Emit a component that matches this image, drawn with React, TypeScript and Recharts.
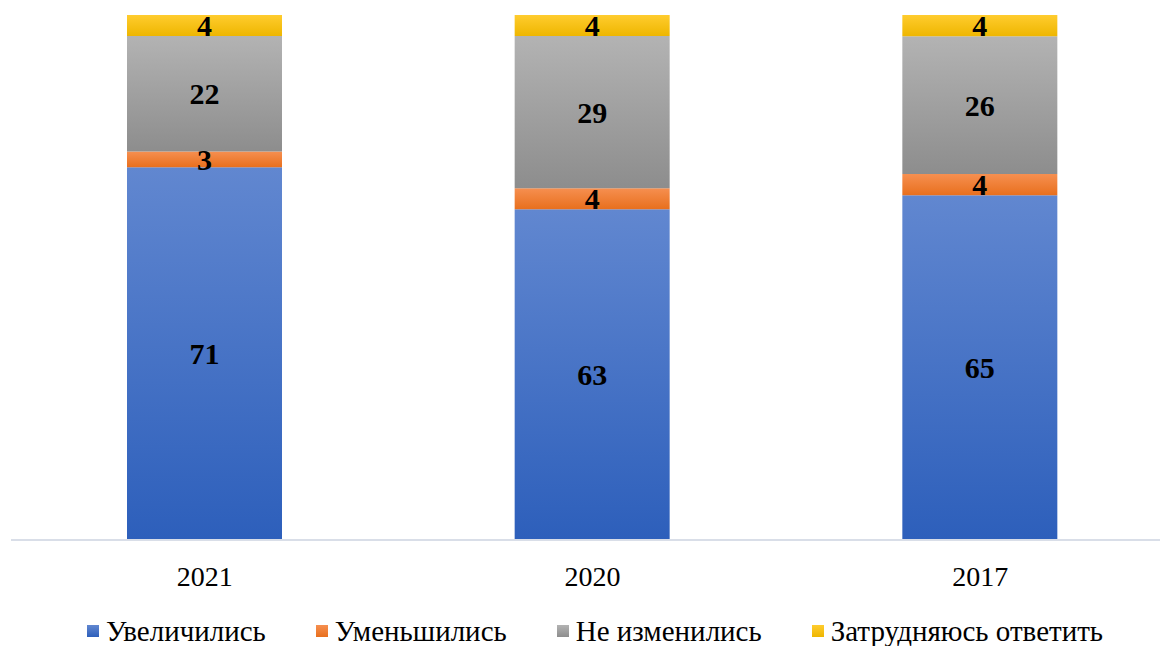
import React from 'react';
import { BarChart, Bar, XAxis, YAxis, Legend, LabelList } from 'recharts';

const years = ['2021', '2020', '2017'];
const increased = [71, 63, 65];
const decreased = [3, 4, 4];
const unchanged = [22, 29, 26];
const hardToSay = [4, 4, 4];

const seriesNames = ['Увеличились', 'Уменьшились', 'Не изменились', 'Затрудняюсь ответить'];
const seriesKeys = ['inc', 'dec', 'same', 'na'];
// top / bottom colours of each segment gradient
const gradTop = ['#6187d0', '#f68f50', '#b3b3b3', '#ffcc2e'];
const gradBottom = ['#2d5fbb', '#e86f1d', '#8d8d8d', '#eeb600'];

const data = years.map((y, i) => ({
    year: y,
    inc: increased[i],
    dec: decreased[i],
    same: unchanged[i],
    na: hardToSay[i],
}));

const serif = "'Liberation Serif', 'DejaVu Serif', serif";

const LegendContent = () => (
    <div style={{ display: 'flex', alignItems: 'center', paddingLeft: 87, height: 30 }}>
        {seriesNames.map((name, i) => (
            <div key={name} style={{ display: 'flex', alignItems: 'center', marginRight: 50 }}>
                <span style={{
                    display: 'inline-block', width: 12, height: 12, marginRight: 7,
                    background: `linear-gradient(${gradTop[i]}, ${gradBottom[i]})`,
                }} />
                <span style={{ fontFamily: serif, fontSize: 29, color: '#000', lineHeight: '30px' }}>{name}</span>
            </div>
        ))}
    </div>
);

const App: React.FC = () => {
    return (
        <div style={{ position: 'absolute', left: 0, top: 0, width: 1160, height: 646, overflow: 'hidden', background: '#fff' }}>
            <BarChart
                width={1180}
                height={646}
                data={data}
                stackOffset="expand"
                barSize={155}
                margin={{ top: 15, right: 6, left: 11, bottom: 0 }}
            >
                <defs>
                    {seriesKeys.map((k, i) => (
                        <linearGradient key={k} id={`g-${k}`} x1="0" y1="0" x2="0" y2="1">
                            <stop offset="0%" stopColor={gradTop[i]} />
                            <stop offset="100%" stopColor={gradBottom[i]} />
                        </linearGradient>
                    ))}
                </defs>
                <XAxis
                    dataKey="year"
                    axisLine={{ stroke: '#d9dee8', strokeWidth: 2 }}
                    tickLine={false}
                    tickMargin={20}
                    height={76}
                    tick={{ fill: '#000', fontSize: 28, fontFamily: serif }}
                />
                <YAxis hide domain={[0, 1]} />
                <Legend verticalAlign="bottom" content={<LegendContent />} wrapperStyle={{ left: 0, width: 1160 }} />
                {seriesKeys.map((k, i) => (
                    <Bar
                        key={k}
                        dataKey={k}
                        name={seriesNames[i]}
                        stackId="a"
                        fill={`url(#g-${k})`}
                        isAnimationActive={false}
                    >
                        <LabelList
                            dataKey={k}
                            position="center"
                            fill="#000"
                            fontFamily={serif}
                            fontSize={30}
                            fontWeight="bold"
                        />
                    </Bar>
                ))}
            </BarChart>
        </div>
    );
};

export default App;
